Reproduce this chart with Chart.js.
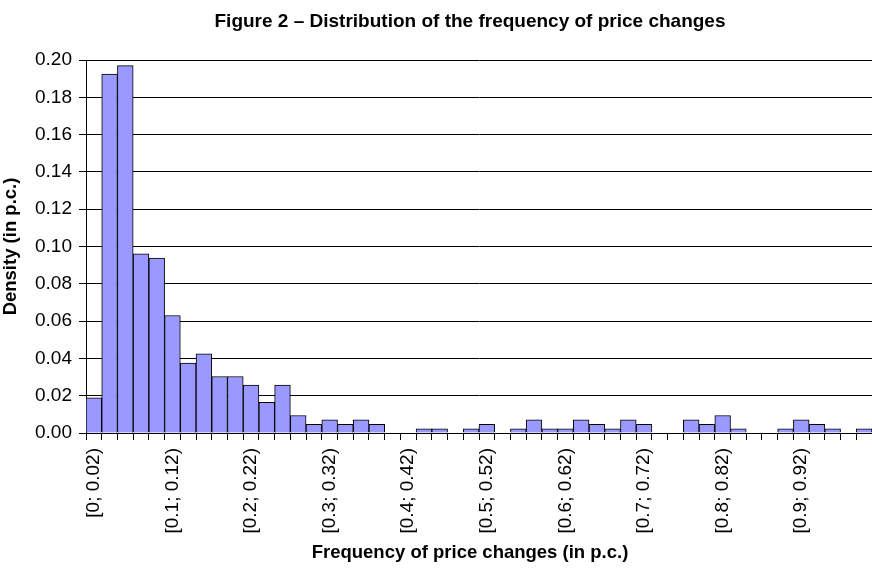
<!DOCTYPE html>
<html>
<head>
<meta charset="utf-8">
<script src="https://cdn.jsdelivr.net/npm/chart.js@4"></script>
<style>
html,body{margin:0;padding:0;background:#fff;}
#wrap{position:relative;width:872px;height:568px;}
#title{position:absolute;left:0;top:10px;width:940px;text-align:center;font:bold 19px "Liberation Sans",Arial,sans-serif;color:#000;}
#xtitle{position:absolute;left:0;top:541px;width:940px;text-align:center;font:bold 18.5px "Liberation Sans",Arial,sans-serif;color:#000;}
canvas{position:absolute;left:0;top:0;}
</style>
</head>
<body>
<div id="wrap">
<canvas id="c" width="872" height="568"></canvas>
<div id="title">Figure 2 – Distribution of the frequency of price changes</div>
<div id="xtitle">Frequency of price changes (in p.c.)</div>
</div>
<script>
// Bin labels: [0; 0.02), [0.02; 0.04), ... [0.98; 1)
const binStarts = ["0","0.02","0.04","0.06","0.08","0.1","0.12","0.14","0.16","0.18",
  "0.2","0.22","0.24","0.26","0.28","0.3","0.32","0.34","0.36","0.38",
  "0.4","0.42","0.44","0.46","0.48","0.5","0.52","0.54","0.56","0.58",
  "0.6","0.62","0.64","0.66","0.68","0.7","0.72","0.74","0.76","0.78",
  "0.8","0.82","0.84","0.86","0.88","0.9","0.92","0.94","0.96","0.98"];
const binEnds = ["0.02","0.04","0.06","0.08","0.1","0.12","0.14","0.16","0.18","0.2",
  "0.22","0.24","0.26","0.28","0.3","0.32","0.34","0.36","0.38","0.4",
  "0.42","0.44","0.46","0.48","0.5","0.52","0.54","0.56","0.58","0.6",
  "0.62","0.64","0.66","0.68","0.7","0.72","0.74","0.76","0.78","0.8",
  "0.82","0.84","0.86","0.88","0.9","0.92","0.94","0.96","0.98","1"];
const categories = binStarts.map((s, i) => "[" + s + "; " + binEnds[i] + ")");
const density = [0.0188,0.1925,0.197,0.0961,0.0938,0.063,0.0375,0.0424,0.0303,0.0303,
  0.0257,0.0164,0.0257,0.0094,0.0047,0.007,0.0047,0.007,0.0047,0,
  0,0.0023,0.0023,0,0.0023,0.0047,0,0.0023,0.007,0.0023,
  0.0023,0.007,0.0047,0.0023,0.007,0.0047,0,0,0.007,0.0047,
  0.0094,0.0023,0,0,0.0023,0.007,0.0047,0.0023,0,0.0023];
const yTicks = ["0.00","0.02","0.04","0.06","0.08","0.10","0.12","0.14","0.16","0.18","0.20"];

const FONT = '"Liberation Sans", Arial, sans-serif';
new Chart(document.getElementById('c'), {
  type: 'bar',
  data: {
    labels: categories,
    datasets: [{
      data: density,
      backgroundColor: '#9999FF',
      borderColor: '#000000',
      borderWidth: 1,
      barPercentage: 1,
      categoryPercentage: 1
    }]
  },
  options: {
    responsive: false,
    animation: false,
    layout: { padding: { top: 60, right: 0, left: 0, bottom: 0 } },
    plugins: { legend: { display: false }, tooltip: { enabled: false } },
    scales: {
      x: {
        offset: true,
        grid: { offset: true, drawOnChartArea: false, color: '#000', tickLength: 7, lineWidth: 1 },
        border: { color: '#000', width: 1 },
        ticks: {
          autoSkip: false, minRotation: 90, maxRotation: 90, padding: 8,
          color: '#000', font: { family: FONT, size: 19 },
          callback: function(v, i) { return i % 5 === 0 ? categories[i] : ''; }
        },
        afterFit: function(s) { s.height = 135; s.paddingLeft = 0; s.paddingRight = 0; }
      },
      y: {
        min: 0, max: 0.2,
        grid: { color: '#000', lineWidth: 1, tickLength: 7 },
        border: { color: '#000', width: 1 },
        ticks: {
          stepSize: 0.02, color: '#000', padding: 7, font: { family: FONT, size: 19 },
          callback: function(v, i) { return yTicks[i]; }
        },
        title: { display: true, text: 'Density (in p.c.)', color: '#000',
          font: { family: FONT, size: 18.5, weight: 'bold' }, padding: { top: 0, bottom: 0 } },
        afterFit: function(s) { s.width = 86; s.paddingTop = 0; s.paddingBottom = 0; }
      }
    }
  }
});
</script>
</body>
</html>
